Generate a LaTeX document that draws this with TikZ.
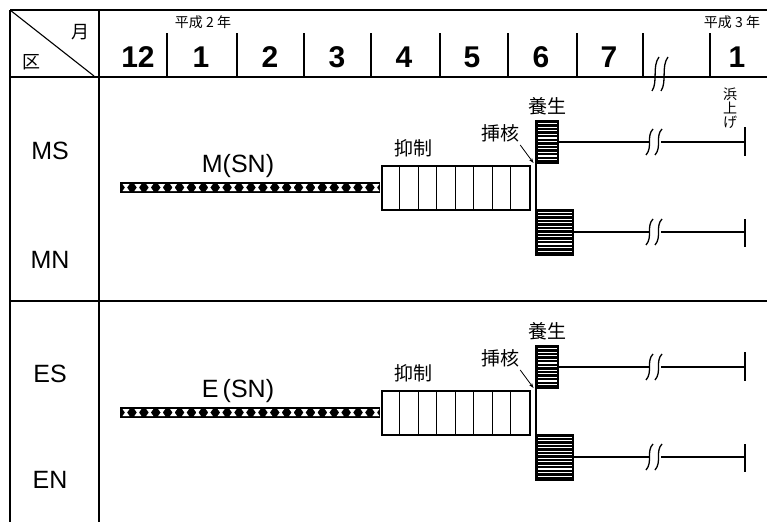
\documentclass[tikz,border=0pt]{standalone}
\usepackage{fontspec}
\setmainfont{Liberation Sans}
\newfontfamily\jp{Noto Sans CJK JP}
\usetikzlibrary{arrows.meta,calc}
\begin{document}
\begin{tikzpicture}[x=1pt,y=-1pt,
  frame/.style={line width=1.4pt},
  tickline/.style={line width=1.1pt},
  month/.style={font=\fontsize{30}{30}\selectfont\bfseries, inner sep=0pt},
  era/.style={font=\jp\fontsize{14}{14}\selectfont, inner sep=0pt},
  jlab/.style={font=\jp\fontsize{19}{19}\selectfont, inner sep=0pt},
  plot/.style={font=\fontsize{25}{25}\selectfont, inner sep=0pt},
  ganttline/.style={line width=1.6pt},
  hatchbox/.style={fill=black, draw=black, line width=1pt, inner sep=0pt},
  chainbar/.style={fill=black, inner sep=0pt, minimum width=260pt, minimum height=11pt},
  supbox/.style={draw, line width=1.4pt, inner sep=0pt, minimum width=148pt, minimum height=44pt},
  squig/.style={line width=1.3pt}
]
\useasboundingbox (0,0) rectangle (767,522);

% ---------- frame ----------
\draw[frame, line width=2pt] (10,10) -- (767,10);
\draw[frame] (10,10) -- (10,522);
\draw[frame] (99,10) -- (99,522);
\draw[frame] (10,77) -- (767,77);
\draw[frame] (10,301) -- (767,301);
\draw[line width=1.1pt] (10,10) -- (94,76);
\node[font=\jp\fontsize{18}{18}\selectfont, inner sep=0pt] (tsuki) at (80,32) {月};
\node[font=\jp\fontsize{18}{18}\selectfont, inner sep=0pt] (ku) at (31,62) {区};

% ---------- month header ----------
\foreach \xx in {167,237,304,371,440,508,577,643,710}
  \draw[tickline] (\xx,33) -- (\xx,77);
\node[era] (era2) at (203,22) {平成 2 年};
\node[era] (era3) at (732,22) {平成 3 年};
\foreach \nm/\xx/\t in {m12/138/12, m1/201/1, m2/270/2, m3/337/3, m4/404/4, m5/472/5, m6/541/6, m7/609/7, n1/737/1}
  \node[month] (\nm) at (\xx,57) {\t};
% header break mark
\draw[squig] (652,91) .. controls (658,82) and (652,66) .. (659,57);
\draw[squig] (661,91) .. controls (667,82) and (661,66) .. (668,57);

% ---------- row labels ----------
\node[plot] (MS) at (50,151) {MS};
\node[plot] (MN) at (50,260) {MN};
\node[plot] (ES) at (50,374) {ES};
\node[plot] (EN) at (50,480) {EN};

% ---------- the two sections ----------
\foreach \p/\dy/\lab in {M/0/{M(SN)}, E/225/{E\,(SN)}} {
\begin{scope}[shift={(0,\dy)}]
  % chain bar (SN period)
  \node[chainbar] (\p-chain) at (250,187.5) {};
  \foreach \k in {0,...,21}
    \fill[white] ({126+11.9*\k},187.5) ++(-3.5,-3.5) -- ++(7,0) -- ++(-2.5,3.5) -- ++(2.5,3.5) -- ++(-7,0) -- ++(2.5,-3.5) -- cycle;
  \node[plot] (\p-lab) at (238,166) {\lab};
  % suppression period
  \node[supbox] (\p-sup) at (456,188) {};
  \foreach \k in {1,...,7}
    \draw[line width=1.1pt] ($(\p-sup.north west)+({18.5*\k},0)$) -- ($(\p-sup.south west)+({18.5*\k},0)$);
  \node[jlab] (\p-suptxt) at (413,148) {抑制};
  % nucleus insertion
  \node[jlab] (\p-ins) at (500,133) {挿核};
  \coordinate (\p-vt) at (533.5,163);
  \draw[line width=0.8pt, -{Stealth[length=5pt,width=3.5pt]}] ($(\p-ins.south east)+(1,3)$) -- (\p-vt);
  % culture
  \node[jlab] (\p-cul) at (547,106) {養生};
  \node[hatchbox, minimum width=22pt, minimum height=43pt] (\p-up) at (547,142) {};
  \node[hatchbox, minimum width=37pt, minimum height=46pt] (\p-low) at (554.5,232) {};
  \foreach \k in {1,...,11}
    \draw[white, line width=1.1pt] ($(\p-up.north west)+(2.5,{3.6*\k})$) -- ($(\p-up.north east)+(-1.5,{3.6*\k})$);
  \foreach \k in {1,...,12}
    \draw[white, line width=1.1pt] ($(\p-low.north west)+(2.5,{3.55*\k})$) -- ($(\p-low.north east)+(-1.5,{3.55*\k})$);
  \draw[ganttline, line width=2pt] (\p-up.north west) -- (\p-low.south west);
  % upper row line with break
  \coordinate (\p-ua) at (650,142);
  \coordinate (\p-ub) at (661,142);
  \coordinate (\p-ue) at (745,142);
  \draw[ganttline] (\p-up.east) -- (\p-ua);
  \draw[ganttline] (\p-ub) -- (\p-ue);
  \draw[squig] (646,155) .. controls (653,147) and (646,136) .. (653,129);
  \draw[squig] (655,155) .. controls (662,147) and (655,136) .. (662,129);
  \draw[ganttline] ($(\p-ue)+(0,-15)$) -- ($(\p-ue)+(0,14)$);
  % lower row line with break
  \coordinate (\p-la) at (650,232);
  \coordinate (\p-lb) at (661,232);
  \coordinate (\p-le) at (745,232);
  \draw[ganttline] (\p-low.east) -- (\p-la);
  \draw[ganttline] (\p-lb) -- (\p-le);
  \draw[squig] (646,245) .. controls (653,237) and (646,226) .. (653,219);
  \draw[squig] (655,245) .. controls (662,237) and (655,226) .. (662,219);
  \draw[ganttline] ($(\p-le)+(0,-13)$) -- ($(\p-le)+(0,15)$);
\end{scope}
}
% landing mark (only in upper section)
\node[font=\jp\fontsize{14}{14}\selectfont, inner sep=0pt, align=center] (hama) at (730,108) {浜\\上\\げ};
\end{tikzpicture}
\end{document}
